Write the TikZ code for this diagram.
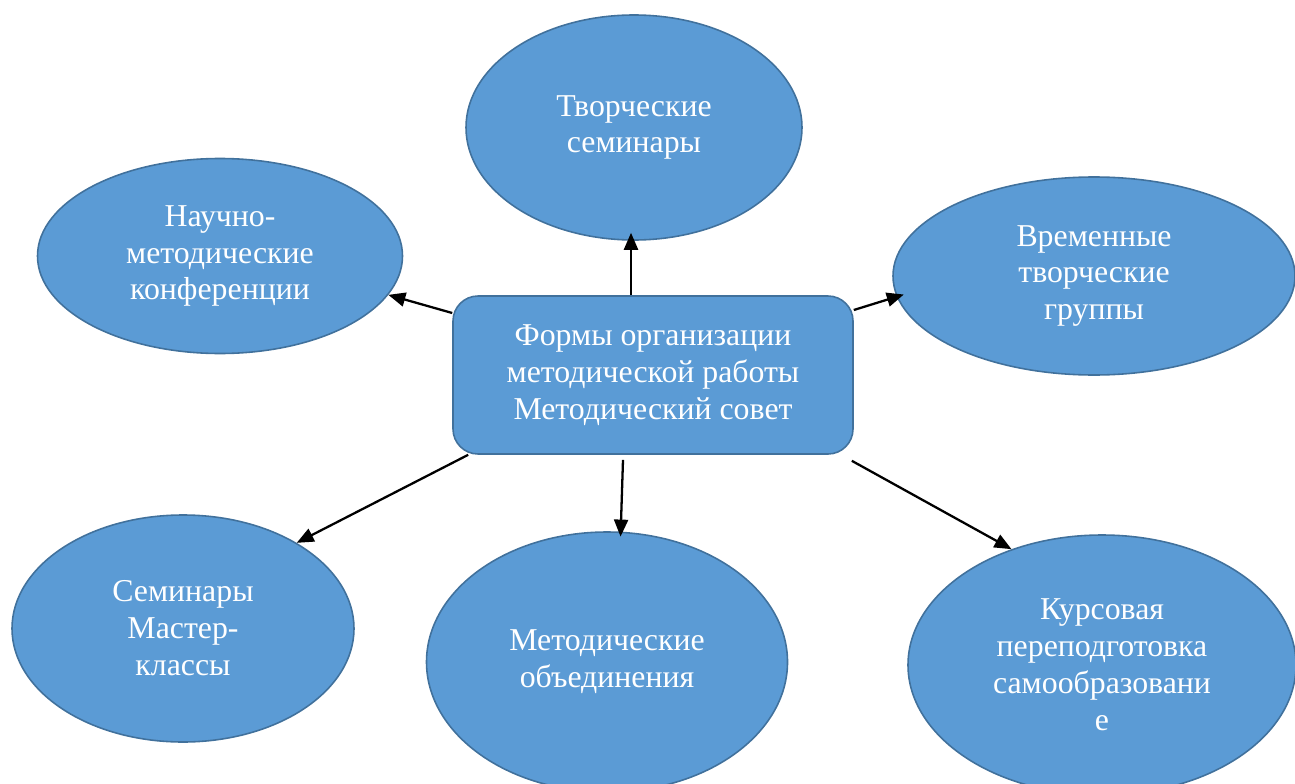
\documentclass[tikz,border=0pt]{standalone}
\usepackage{fontspec}
\setmainfont{Liberation Serif}
\usetikzlibrary{shapes.geometric,arrows.meta}

\definecolor{fillblue}{HTML}{5B9BD5}
\definecolor{lineblue}{HTML}{41719C}

\tikzset{
  oval/.style={ellipse,draw=lineblue,line width=0.9pt,fill=fillblue,text=white,
    inner sep=0pt,align=center,font=\fontsize{18.1}{21}\selectfont},
  mainbox/.style={rectangle,rounded corners=0.5cm,draw=lineblue,line width=0.9pt,fill=fillblue,
    text=white,align=center,minimum width=8cm,minimum height=3.16cm,font=\fontsize{18.1}{21}\selectfont},
  arr/.style={-{Triangle[length=3.4mm,width=2.8mm]},line width=1.3pt,black}
}

\begin{document}
\begin{tikzpicture}

\useasboundingbox (0,0) rectangle (25.9,15.66);

\node [mainbox] (box) at (13.06,8.16) {Формы организации\\методической работы\\Методический совет};

\node [oval,minimum width=6.72cm,minimum height=4.5cm] (top) at (12.68,13.11) {Творческие\\семинары};
\node [oval,minimum width=7.3cm,minimum height=3.9cm] (left) at (4.40,10.54) {Научно-\\методические\\конференции};
\node [oval,minimum width=8.04cm,minimum height=3.96cm] (right) at (21.88,10.14) {Временные\\творческие\\группы};
\node [oval,minimum width=6.84cm,minimum height=4.54cm] (botleft) at (3.66,3.09) {Семинары\\Мастер-\\классы};
\node [oval,minimum width=7.22cm,minimum height=5.2cm] (botmid) at (12.14,2.42) {Методические\\объединения};
\node [oval,minimum width=7.76cm,minimum height=5.2cm] (botright) at (22.04,2.36) {Курсовая\\переподготовка\\самообразовани\\е};

% стрелки
\draw [arr,shorten >=-0.16cm] ([xshift=-0.44cm]box.north) -- ([xshift=-0.06cm]top.south);
\draw [arr] ([yshift=1.24cm]box.west) -- (left.-13);
\draw [arr,shorten >=-0.15cm] ([yshift=1.30cm]box.east) -- (right.186);
\draw [arr] ([xshift=0.32cm]box.south west) -- (botleft.37);
\draw [arr,shorten >=-0.1cm] ([xshift=-0.6cm,yshift=-0.1cm]box.south) -- (botmid.84);
\draw [arr] ([xshift=-0.04cm,yshift=-0.12cm]box.south east) -- (botright.128);

\end{tikzpicture}
\end{document}
